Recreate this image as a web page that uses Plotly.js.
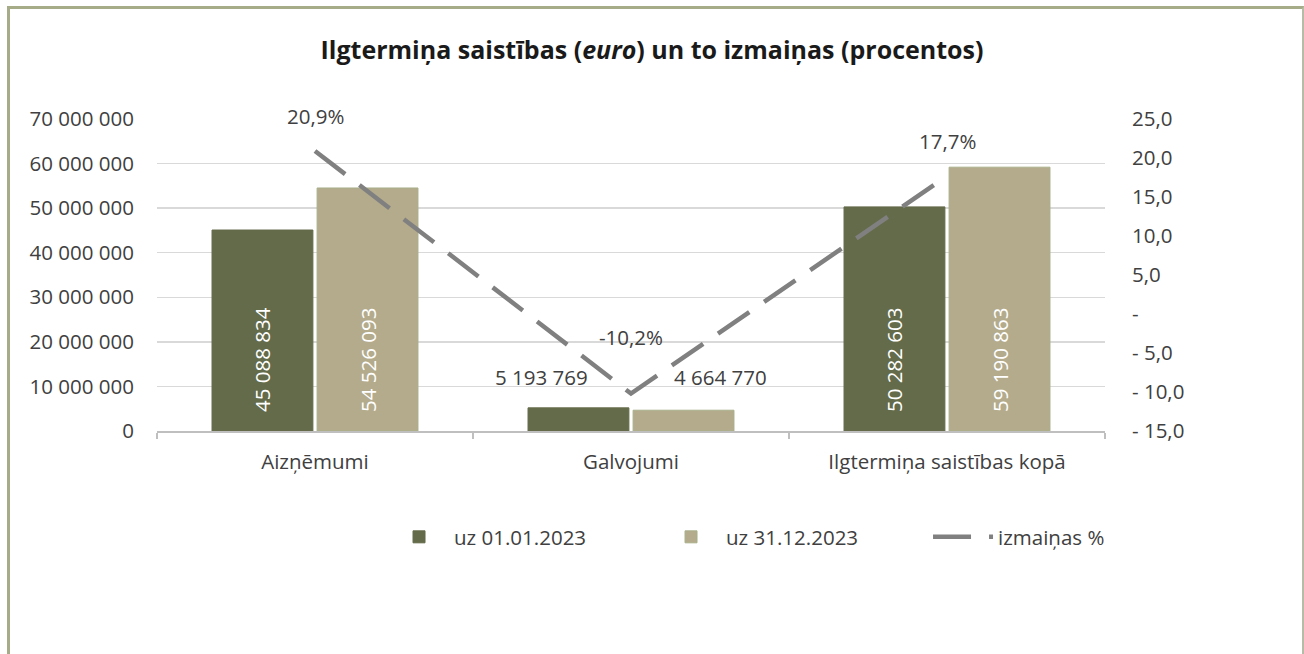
<!DOCTYPE html>
<html>
<head>
<meta charset="utf-8">
<script src="https://cdn.plot.ly/plotly-3.0.1.min.js"></script>
<style>
  html, body { margin: 0; padding: 0; background: #ffffff; }
  #chart { position: absolute; left: 0; top: 0; width: 1304px; height: 654px; }
  #frame { position: absolute; left: 7px; top: 6px; width: 1297px; height: 700px;
           box-sizing: border-box; border: 3px solid #a6ac88; border-bottom: none;
           border-right: 2px solid #b8bca6; pointer-events: none; }
</style>
</head>
<body>
<div id="chart"></div>
<div id="frame"></div>
<script>
// ---- data ----
const categories = ["Aizņēmumi", "Galvojumi", "Ilgtermiņa saistības kopā"];
const seriesStartName = "uz 01.01.2023";
const seriesEndName = "uz 31.12.2023";
const seriesChangeName = "izmaiņas %";
const valuesStart = [45088834, 5193769, 50282603];
const valuesEnd = [54526093, 4664770, 59190863];
const changePct = [20.9, -10.2, 17.7];
const rightTickVals = [-15, -10, -5, 0, 5, 10, 15, 20, 25];
const rightTickText = ["- 15,0", "- 10,0", "- 5,0", "-", "5,0", "10,0", "15,0", "20,0", "25,0"];
const insideLabelMask = [true, false, true]; // bars whose label sits inside

const fmtNum = v => Math.round(v).toString().replace(/\B(?=(\d{3})+(?!\d))/g, " ");
const fmtPct = v => v.toFixed(1).replace(".", ",") + "%";
const PAD = "\u00a0\u00a0\u00a0";

const FONT = "'Open Sans', 'Noto Sans', sans-serif";
const TXT = "#404040";
const DARK = "#646b4a";
const LIGHT = "#b4ab8c";
const FS = 20.5;

const traceStart = {
  type: "bar", name: seriesStartName, x: categories, y: valuesStart,
  marker: { color: DARK, line: { color: DARK, width: 1 } },
  text: valuesStart.map((v, i) => insideLabelMask[i] ? PAD + fmtNum(v) : ""),
  textposition: "inside", insidetextanchor: "start", textangle: -90,
  insidetextfont: { family: FONT, size: 20.5, color: "#ffffff" },
  hoverinfo: "skip", cliponaxis: false
};
const traceEnd = {
  type: "bar", name: seriesEndName, x: categories, y: valuesEnd,
  marker: { color: LIGHT, line: { color: "#a9b08b", width: 1 } },
  text: valuesEnd.map((v, i) => insideLabelMask[i] ? PAD + fmtNum(v) : ""),
  textposition: "inside", insidetextanchor: "start", textangle: -90,
  insidetextfont: { family: FONT, size: 20.5, color: "#ffffff" },
  hoverinfo: "skip", cliponaxis: false
};
const traceChange = {
  type: "scatter", mode: "lines", name: seriesChangeName, x: categories, y: changePct,
  yaxis: "y2", line: { color: "#808080", width: 4.5, dash: "38px,18px" },
  hoverinfo: "skip"
};

const annotations = [];
categories.forEach((c, i) => {
  if (!insideLabelMask[i]) {
    annotations.push({ x: c, y: valuesStart[i], xref: "x", yref: "y", text: fmtNum(valuesStart[i]),
      showarrow: false, xshift: -90, yshift: 31, font: { family: FONT, size: FS, color: TXT } });
    annotations.push({ x: c, y: valuesEnd[i], xref: "x", yref: "y", text: fmtNum(valuesEnd[i]),
      showarrow: false, xshift: 89, yshift: 33, font: { family: FONT, size: FS, color: TXT } });
  }
});
const pctShift = [35, 57, 35];
categories.forEach((c, i) => {
  annotations.push({ x: c, y: changePct[i], xref: "x", yref: "y2", text: fmtPct(changePct[i]),
    showarrow: false, yshift: pctShift[i], font: { family: FONT, size: FS, color: TXT } });
});

const layout = {
  width: 1304, height: 654,
  paper_bgcolor: "rgba(0,0,0,0)", plot_bgcolor: "#ffffff",
  margin: { l: 157, r: 199, t: 119, b: 223 },
  separators: ", ",
  font: { family: FONT, size: FS, color: TXT },
  title: { text: "Ilgtermiņa saistības (<i>euro</i>) un to izmaiņas (procentos)",
    x: 0.5, xref: "container", xanchor: "center", y: 1 - 50 / 654, yref: "container", yanchor: "middle",
    font: { family: FONT, size: 25, color: "#1a1a1a", weight: "bold" } },
  barmode: "group", bargap: 0.335, bargroupgap: 0.04,
  showlegend: true,
  legend: { orientation: "h", xref: "container", x: 0.2945, xanchor: "left",
    yref: "container", y: 1 - 517 / 654, yanchor: "top",
    font: { family: FONT, size: FS, color: TXT }, traceorder: "normal",
    itemwidth: 60, entrywidth: 197, entrywidthmode: "pixels" },
  xaxis: {
    type: "category", showgrid: false, showline: true, linecolor: "#bfbfbf", linewidth: 1.5,
    ticks: "outside", tickson: "boundaries", ticklen: 6, tickcolor: "#bfbfbf", tickwidth: 1.5,
    tickfont: { family: FONT, size: FS, color: TXT }, ticklabelstandoff: 12, fixedrange: true
  },
  yaxis: {
    range: [0, 70000000], dtick: 10000000, tick0: 0, tickformat: ",d",
    showgrid: true, gridcolor: "#d9d9d9", gridwidth: 1.5, zeroline: false,
    showline: false, ticks: "", tickfont: { family: FONT, size: FS, color: TXT },
    ticklabelstandoff: 22, fixedrange: true
  },
  yaxis2: {
    overlaying: "y", side: "right", range: [-15, 25],
    tickmode: "array", tickvals: rightTickVals, ticktext: rightTickText,
    showgrid: false, zeroline: false, showline: false, ticks: "",
    tickfont: { family: FONT, size: FS, color: TXT }, ticklabelstandoff: 26, fixedrange: true
  },
  annotations: annotations
};

Plotly.newPlot("chart", [traceStart, traceEnd, traceChange], layout, { staticPlot: true, displayModeBar: false });
</script>
</body>
</html>
